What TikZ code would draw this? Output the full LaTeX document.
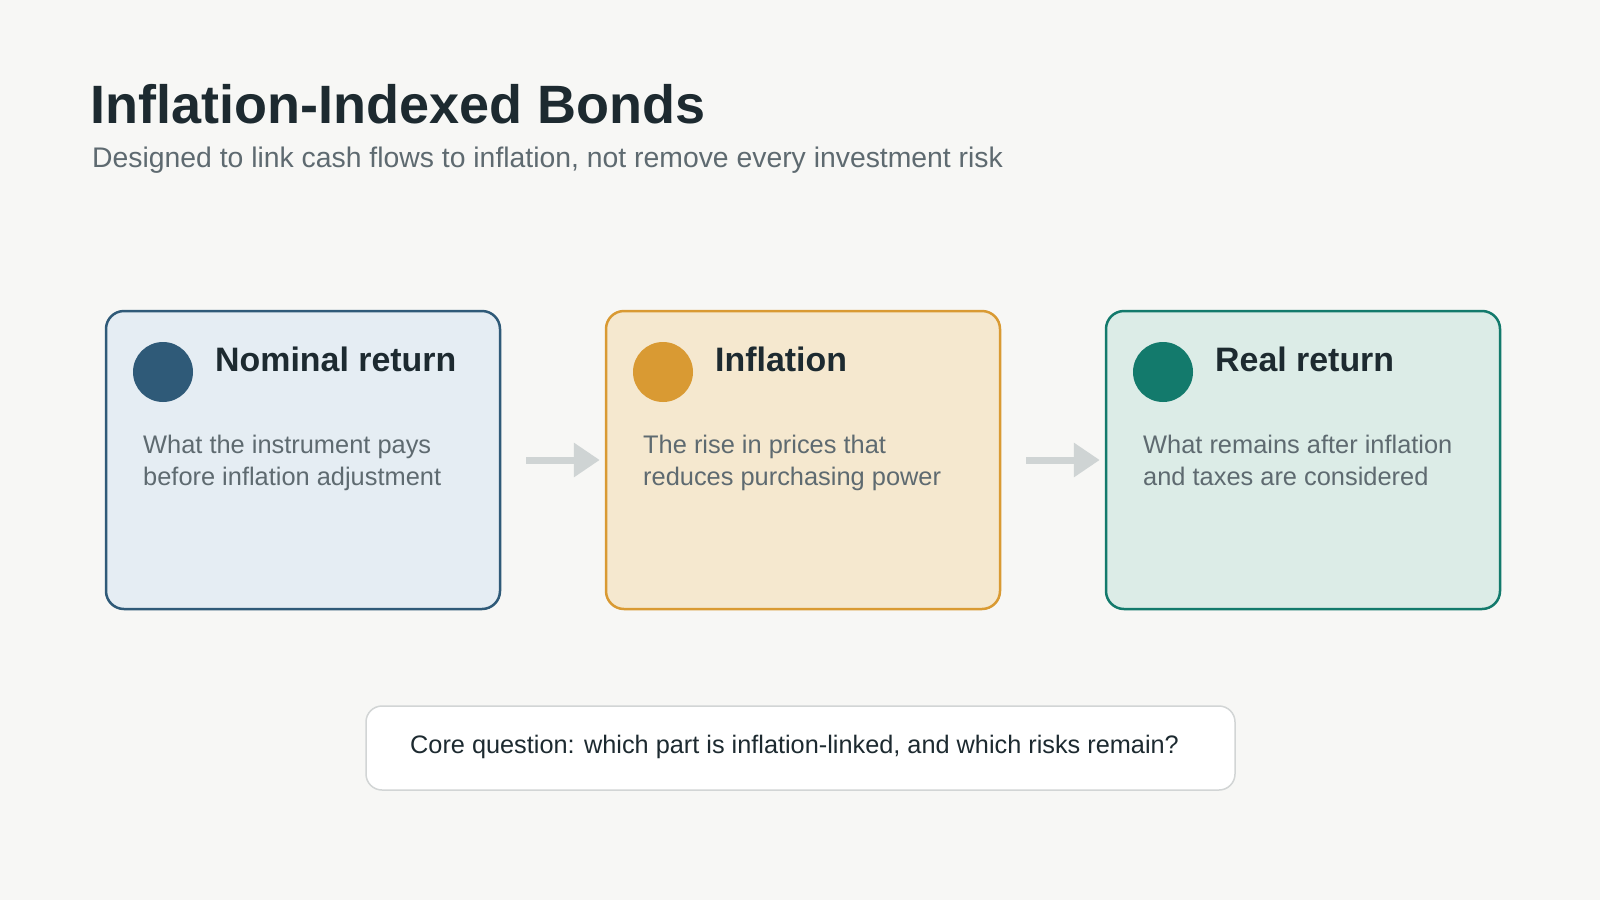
\documentclass[tikz,border=0pt]{standalone}
\usepackage{fontspec}
\setmainfont{Liberation Sans}
\usetikzlibrary{arrows.meta}
\definecolor{bg}{HTML}{F7F7F5}
\definecolor{ink}{HTML}{1D2A30}
\definecolor{muted}{HTML}{5E6A70}
\definecolor{blueln}{HTML}{2F5A78}
\definecolor{bluefl}{HTML}{E5EDF3}
\definecolor{orangeln}{HTML}{D99A33}
\definecolor{orangefl}{HTML}{F5E8CF}
\definecolor{tealln}{HTML}{137A6C}
\definecolor{tealfl}{HTML}{DCECE7}
\definecolor{arrowc}{HTML}{CFD4D4}
\definecolor{qline}{HTML}{D2D5D5}
\tikzset{
  card/.style={rectangle, rounded corners=18pt, line width=2.5pt, minimum width=394pt, minimum height=298pt, inner sep=0pt},
  dot/.style={circle, minimum size=60pt, inner sep=0pt},
  cardtitle/.style={anchor=base west, inner sep=0pt, text=ink, font=\fontsize{33.9}{40}\selectfont\bfseries},
  cardbody/.style={anchor=base west, inner sep=0pt, text=muted, align=left, font=\fontsize{25.4}{32}\selectfont},
  flow/.style={draw=arrowc, line width=7pt, -{Triangle[length=26pt,width=33pt]}, shorten <=25pt, shorten >=5pt},
}
\begin{document}
\begin{tikzpicture}[x=1pt,y=-1pt]
\useasboundingbox[fill=bg] (0,0) rectangle (1600,900);
\node[anchor=base west, inner sep=0pt, text=ink, font=\fontsize{54}{60}\selectfont\bfseries] (title) at (90,123) {Inflation-Indexed Bonds};
\node[anchor=base west, inner sep=0pt, text=muted, font=\fontsize{28.35}{34}\selectfont] (sub) at (92,167) {Designed to link cash flows to inflation, not remove every investment risk};

% cards
\node[card, draw=blueln, fill=bluefl] (c1) at (303,460) {};
\node[card, draw=orangeln, fill=orangefl] (c2) at (803,460) {};
\node[card, draw=tealln, fill=tealfl] (c3) at (1303,460) {};

\node[dot, fill=blueln] (d1) at (163,372) {};
\node[dot, fill=orangeln] (d2) at (663,372) {};
\node[dot, fill=tealln] (d3) at (1163,372) {};

\node[cardtitle] (t1) at (215,371) {Nominal return};
\node[cardtitle] (t2) at (715,371) {Inflation};
\node[cardtitle] (t3) at (1215,371) {Real return};

\node[cardbody] (b1) at (143,485) {What the instrument pays\\before inflation adjustment};
\node[cardbody] (b2) at (643,485) {The rise in prices that\\reduces purchasing power};
\node[cardbody] (b3) at (1143,485) {What remains after inflation\\and taxes are considered};

\draw[flow] (c1.east) -- (c2.west);
\draw[flow] (c2.east) -- (c3.west);

% question box
\node[rectangle, rounded corners=16pt, draw=qline, line width=1.5pt, fill=white, minimum width=869pt, minimum height=84pt, inner sep=0pt] (q) at (800.5,748) {};
\node[anchor=base west, inner sep=0pt, text=ink, font=\fontsize{25.3}{30}\selectfont] (qt) at (410,753) {Core question: which part is inflation-linked, and which risks remain?};
\end{tikzpicture}
\end{document}
